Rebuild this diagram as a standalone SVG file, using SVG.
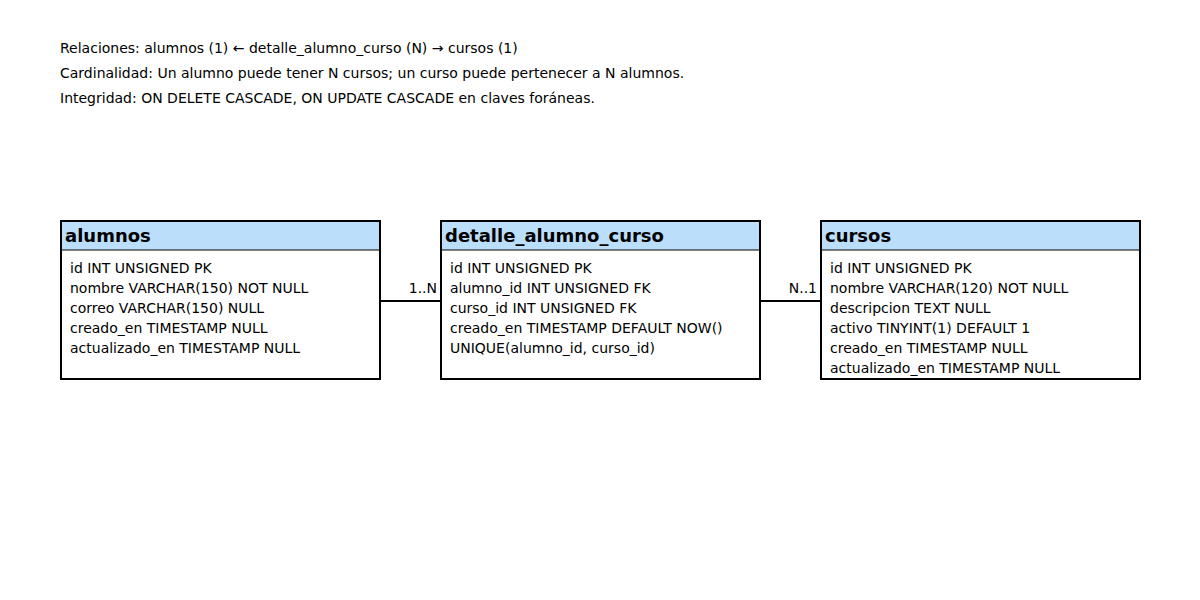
<svg xmlns="http://www.w3.org/2000/svg" width="1200" height="600" viewBox="0 0 1200 600">
<style>
.note{font-family:"DejaVu Sans",sans-serif;font-size:14px;fill:#000}
.box{fill:#fff;stroke:#000;stroke-width:2}
.hdr{fill:#bbdefb;stroke:#000;stroke-width:1}
.title{font-family:"DejaVu Sans",sans-serif;font-size:18px;font-weight:bold;fill:#000}
.fld{font-family:"DejaVu Sans",sans-serif;font-size:14px;fill:#000}
.edge{stroke:#000;stroke-width:2;fill:none}
.lbl{font-family:"DejaVu Sans",sans-serif;font-size:14px;fill:#000;text-anchor:end}
</style>
<rect width="1200" height="600" fill="#fff"/>
<g id="notes">
<text class="note" x="60" y="53">Relaciones: alumnos (1) ← detalle_alumno_curso (N) → cursos (1)</text>
<text class="note" x="60" y="78">Cardinalidad: Un alumno puede tener N cursos; un curso puede pertenecer a N alumnos.</text>
<text class="note" x="60" y="103">Integridad: ON DELETE CASCADE, ON UPDATE CASCADE en claves foráneas.</text>
</g>
<g id="connectors">
<line class="edge" x1="380" y1="301" x2="441" y2="301"/>
<line class="edge" x1="760" y1="301" x2="821" y2="301"/>
<text class="lbl" x="437" y="293">1..N</text>
<text class="lbl" x="817" y="293">N..1</text>
</g>
<g id="alumnos">
<rect class="box" x="61" y="221" width="319" height="158"/>
<rect class="hdr" x="61" y="221" width="319" height="29"/>
<rect x="61" y="221" width="319" height="158" fill="none" stroke="#000" stroke-width="2"/>
<text class="title" x="65" y="242">alumnos</text>
<text class="fld" x="70" y="273">id INT UNSIGNED PK</text>
<text class="fld" x="70" y="293">nombre VARCHAR(150) NOT NULL</text>
<text class="fld" x="70" y="313">correo VARCHAR(150) NULL</text>
<text class="fld" x="70" y="333">creado_en TIMESTAMP NULL</text>
<text class="fld" x="70" y="353">actualizado_en TIMESTAMP NULL</text>
</g>
<g id="detalle_alumno_curso">
<rect class="box" x="441" y="221" width="319" height="158"/>
<rect class="hdr" x="441" y="221" width="319" height="29"/>
<rect x="441" y="221" width="319" height="158" fill="none" stroke="#000" stroke-width="2"/>
<text class="title" x="445" y="242">detalle_alumno_curso</text>
<text class="fld" x="450" y="273">id INT UNSIGNED PK</text>
<text class="fld" x="450" y="293">alumno_id INT UNSIGNED FK</text>
<text class="fld" x="450" y="313">curso_id INT UNSIGNED FK</text>
<text class="fld" x="450" y="333">creado_en TIMESTAMP DEFAULT NOW()</text>
<text class="fld" x="450" y="353">UNIQUE(alumno_id, curso_id)</text>
</g>
<g id="cursos">
<rect class="box" x="821" y="221" width="319" height="158"/>
<rect class="hdr" x="821" y="221" width="319" height="29"/>
<rect x="821" y="221" width="319" height="158" fill="none" stroke="#000" stroke-width="2"/>
<text class="title" x="825" y="242">cursos</text>
<text class="fld" x="830" y="273">id INT UNSIGNED PK</text>
<text class="fld" x="830" y="293">nombre VARCHAR(120) NOT NULL</text>
<text class="fld" x="830" y="313">descripcion TEXT NULL</text>
<text class="fld" x="830" y="333">activo TINYINT(1) DEFAULT 1</text>
<text class="fld" x="830" y="353">creado_en TIMESTAMP NULL</text>
<text class="fld" x="830" y="373">actualizado_en TIMESTAMP NULL</text>
</g>
</svg>
